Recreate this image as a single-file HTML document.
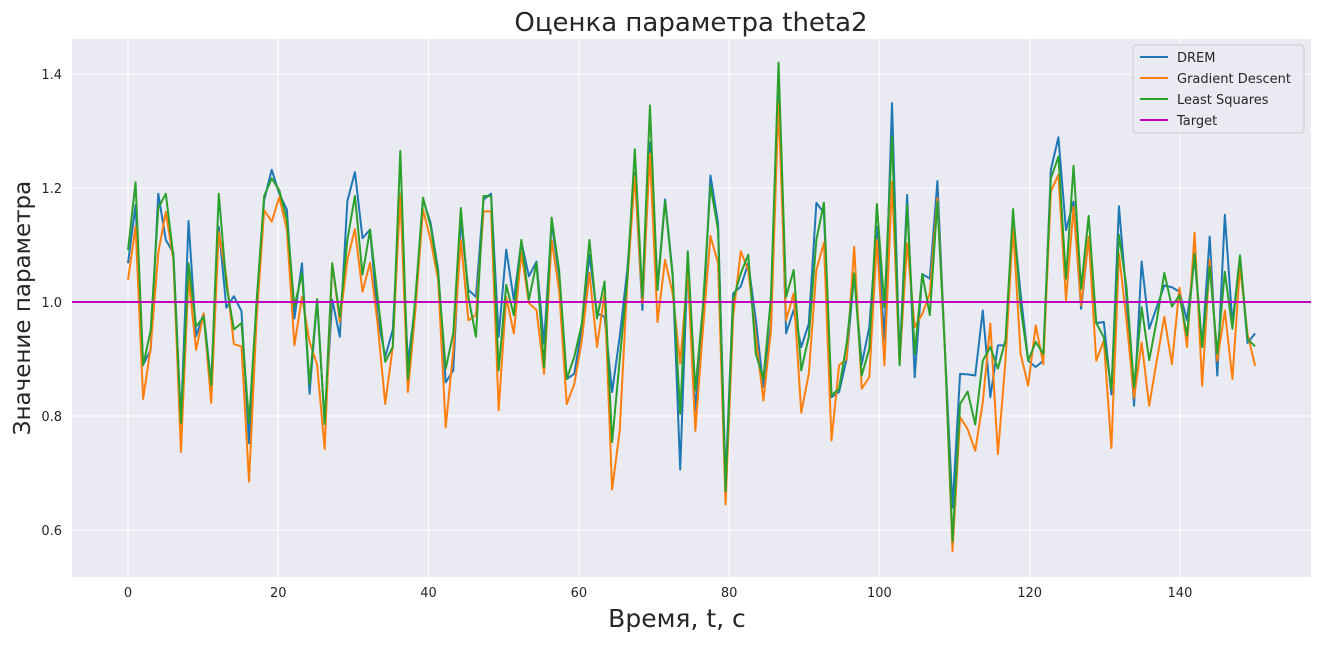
<!DOCTYPE html>
<html><head><meta charset="utf-8"><style>
body{margin:0;background:#fff;font-family:"Liberation Sans","DejaVu Sans",sans-serif;}
svg text{font-family:"DejaVu Sans","Liberation Sans",sans-serif;}
</style></head><body>
<svg id="chart" width="1321" height="640" xmlns="http://www.w3.org/2000/svg">
<rect width="1321" height="640" fill="#fff"/>
<rect x="72" y="39" width="1239" height="538" fill="#eaeaf2"/>
<g id="grid"></g>
<g id="series"></g>
<text x="691" y="31" text-anchor="middle" font-size="26" fill="#262626">Оценка параметра theta2</text>
<text x="677" y="627" text-anchor="middle" font-size="25" fill="#262626">Время, t, с</text>
<text transform="translate(30,308) rotate(-90)" text-anchor="middle" font-size="23" fill="#262626">Значение параметра</text>
<g id="legend">
<rect x="1133" y="45" width="171" height="88" rx="3" fill="#eaeaf2" fill-opacity="0.8" stroke="#cccccc"/>
</g>
</svg>
<script>
const drem=[1.068,1.170,0.89,0.916,1.19,1.109,1.086,0.79,1.142,0.94,
0.98,0.857,1.132,0.99,1.01,0.984,0.752,1.0,1.179,1.232,
1.19,1.162,0.971,1.068,0.839,1.004,0.786,1.004,0.939,1.177,
1.228,1.112,1.127,0.974,0.904,0.951,1.19,0.892,0.998,1.18,
1.139,1.056,0.859,0.88,1.145,1.021,1.009,1.18,1.19,0.939,
1.092,1.004,1.106,1.045,1.071,0.927,1.139,1.045,0.865,0.874,
0.956,1.083,0.98,0.974,0.842,0.939,1.056,1.227,0.986,1.28,
1.027,1.18,1.05,0.706,1.08,0.809,0.962,1.222,1.139,0.686,
1.015,1.027,1.068,0.968,0.851,0.962,1.40,0.945,0.986,0.921,
0.962,1.174,1.156,0.833,0.842,0.9,1.05,0.891,0.956,1.132,
0.933,1.349,0.897,1.188,0.868,1.049,1.041,1.212,0.915,0.639,
0.874,0.873,0.871,0.985,0.833,0.924,0.924,1.15,1.015,0.897,
0.886,0.897,1.232,1.289,1.126,1.176,0.988,1.114,0.963,0.965,
0.838,1.168,1.009,0.818,1.071,0.953,0.991,1.029,1.026,1.018,
0.968,1.079,0.921,1.115,0.871,1.153,0.962,1.079,0.928,0.945];
const gd=[1.039,1.133,0.83,0.92,1.086,1.158,1.074,0.737,1.044,0.916,
0.98,0.823,1.123,1.044,0.926,0.922,0.685,0.97,1.161,1.141,
1.184,1.127,0.924,1.009,0.93,0.89,0.742,1.068,0.965,1.074,
1.128,1.018,1.069,0.962,0.821,0.921,1.189,0.842,0.986,1.162,
1.109,1.039,0.78,0.915,1.109,0.968,0.977,1.159,1.159,0.81,
1.009,0.945,1.086,0.998,0.986,0.874,1.109,1.02,0.821,0.856,
0.933,1.051,0.921,1.015,0.671,0.774,1.033,1.221,0.998,1.26,
0.965,1.074,1.015,0.892,1.056,0.774,0.951,1.116,1.068,0.645,
0.974,1.089,1.056,0.939,0.827,0.951,1.35,0.968,1.015,0.806,
0.874,1.056,1.104,0.757,0.889,0.9,1.097,0.848,0.868,1.109,
0.889,1.211,0.891,1.103,0.956,0.979,1.015,1.182,0.915,0.563,
0.798,0.777,0.739,0.824,0.962,0.733,0.897,1.132,0.909,0.853,
0.959,0.891,1.194,1.223,1.003,1.167,0.994,1.114,0.897,0.932,
0.744,1.085,0.968,0.832,0.929,0.818,0.897,0.974,0.891,1.025,
0.921,1.122,0.853,1.074,0.897,0.985,0.865,1.062,0.944,0.888];
const ls=[1.091,1.21,0.889,0.95,1.165,1.19,1.08,0.788,1.068,0.957,
0.974,0.854,1.19,1.03,0.952,0.963,0.788,1.0,1.186,1.217,
1.196,1.145,0.992,1.05,0.856,1.005,0.786,1.068,0.974,1.109,
1.186,1.048,1.127,1.009,0.895,0.921,1.265,0.865,1.009,1.183,
1.133,1.05,0.883,0.945,1.165,1.009,0.939,1.186,1.186,0.88,
1.03,0.977,1.109,1.004,1.068,0.886,1.148,1.055,0.865,0.904,
0.962,1.109,0.971,1.036,0.754,0.898,1.039,1.268,1.009,1.345,
1.021,1.177,1.045,0.804,1.089,0.845,0.992,1.204,1.127,0.668,
1.004,1.05,1.083,0.909,0.865,1.009,1.42,1.009,1.056,0.88,
0.939,1.109,1.174,0.836,0.848,0.927,1.05,0.871,0.918,1.172,
0.991,1.29,0.889,1.17,0.909,1.049,0.977,1.176,0.915,0.58,
0.821,0.843,0.785,0.897,0.921,0.883,0.933,1.163,0.991,0.897,
0.93,0.909,1.217,1.255,1.041,1.239,1.023,1.151,0.963,0.938,
0.847,1.118,1.026,0.85,0.991,0.898,0.968,1.051,0.992,1.012,
0.941,1.085,0.921,1.062,0.909,1.053,0.953,1.082,0.935,0.922];
const target=1.0;
const xTicks=[0,20,40,60,80,100,120,140];
const yTicks=[0.6,0.8,1.0,1.2,1.4];
const tMax=150;

const NS="http://www.w3.org/2000/svg";
function X(t){return 128+t*7.514;}
function Y(v){return 302-(v-1)*570;}
function mk(tag,attrs,parent){const e=document.createElementNS(NS,tag);for(const k in attrs)e.setAttribute(k,attrs[k]);parent.appendChild(e);return e;}
const grid=document.getElementById('grid');
const svg=document.getElementById('chart');
xTicks.forEach(t=>{
  const l=mk('line',{x1:X(t),x2:X(t),y1:39,y2:577,stroke:'#fff','stroke-width':1.1},grid);
  
  
  const tx=mk('text',{x:X(t),y:597,'text-anchor':'middle','font-size':13,fill:'#262626'},svg);
  tx.textContent=t;
  
  
});
yTicks.forEach(v=>{
  const l=mk('line',{x1:72,x2:1311,y1:Y(v),y2:Y(v),stroke:'#fff','stroke-width':1.1},grid);
  
  
  const tx=mk('text',{x:62,y:Y(v)+5,'text-anchor':'end','font-size':13,fill:'#262626'},svg);
  tx.textContent=v.toFixed(1);
  
  
});
const ser=document.getElementById('series');
function draw(arr,color,name){
  const n=arr.length;
  const pts=arr.map((v,i)=>X(i*tMax/(n-1)).toFixed(2)+','+Y(v).toFixed(2)).join(' ');
  const p=mk('polyline',{points:pts,fill:'none',stroke:color,'stroke-width':2,'stroke-linejoin':'round'},ser);
  
  
}
draw(drem,'#1f77b4','drem-line');
draw(gd,'#ff7f0e','gradient-descent-line');
draw(ls,'#2ca02c','least-squares-line');
const tl=mk('line',{x1:72,x2:1311,y1:Y(target),y2:Y(target),stroke:'#bf00bf','stroke-width':2},ser);


const leg=document.getElementById('legend');
const entries=[['DREM','#1f77b4'],['Gradient Descent','#ff7f0e'],['Least Squares','#2ca02c'],['Target','#bf00bf']];
entries.forEach((e,i)=>{
  const y=57+i*21;
  const g=mk('g',{},leg);
  
  
  mk('line',{x1:1140,x2:1168,y1:y,y2:y,stroke:e[1],'stroke-width':2},g);
  const t=mk('text',{x:1177,y:y+5,'font-size':13,fill:'#262626'},g);
  t.textContent=e[0];
});
</script>
</body></html>
